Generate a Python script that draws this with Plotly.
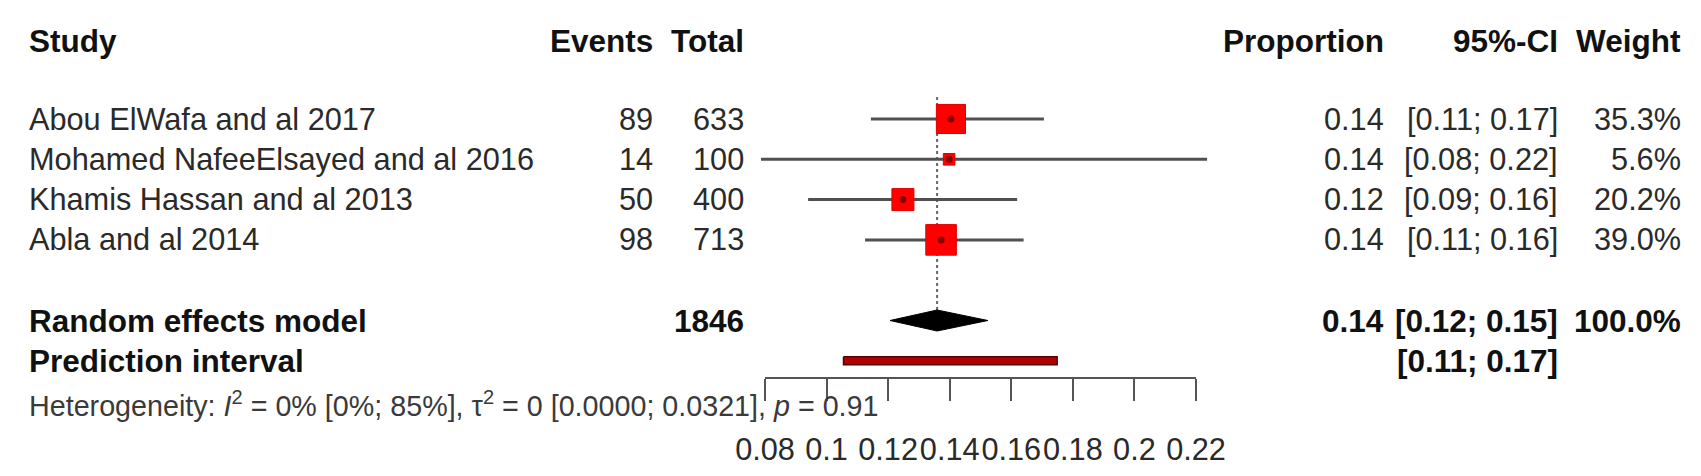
import plotly.graph_objects as go
import numpy as np

# ---------------- data ----------------
studies = ["Abou ElWafa and al 2017", "Mohamed NafeeElsayed and al 2016",
           "Khamis Hassan and al 2013", "Abla and al 2014"]
events = [89, 14, 50, 98]
totals = [633, 100, 400, 713]
proportion = [0.1404, 0.1398, 0.1248, 0.1372]
ci_lower = [0.1144, 0.0787, 0.0940, 0.1125]
ci_upper = [0.1706, 0.2236, 0.1619, 0.1640]
weights = [35.3, 5.6, 20.2, 39.0]

pooled_est = 0.1359
pooled_lower = 0.1206
pooled_upper = 0.1524
pooled_weight = 100.0
pred_lower = 0.1055
pred_upper = 0.1749

tick_vals = [0.08, 0.10, 0.12, 0.14, 0.16, 0.18, 0.20, 0.22]
tick_text = ["0.08", "0.1", "0.12", "0.14", "0.16", "0.18", "0.2", "0.22"]

het_text = ("Heterogeneity: <i>I</i><sup>2</sup> = 0% [0%; 85%], "
            "\u03c4<sup>2</sup> = 0 [0.0000; 0.0321], <i>p</i> = 0.91")

# ---------------- layout helpers ----------------
W, H = 1701, 476
FONT = "Liberation Sans, Arial, sans-serif"
FS = 30.7
FSB = 31.5
ax_left_px, ax_right_px = 765, 1196
axis_y_px = 378
ppu = (ax_right_px - ax_left_px) / (tick_vals[-1] - tick_vals[0])
x_range = [tick_vals[0] - ax_left_px / ppu, tick_vals[0] + (W - ax_left_px) / ppu]

row0, row_gap = 119, 40.3
def row_y(i):
    return row0 + row_gap * i

header_y = 41
het_y = 404

col_study = 27
col_events = 655
col_total = 746
col_prop = 1386
col_ci = 1560
col_weight = 1683

fig = go.Figure()

# dotted pooled line
fig.add_trace(go.Scatter(x=[pooled_est, pooled_est], y=[row_y(0) - 22, row_y(5) - 10],
                         mode="lines", line=dict(color="#666", width=2, dash="dot"),
                         hoverinfo="skip", showlegend=False))

# CI lines
for i in range(len(studies)):
    fig.add_trace(go.Scatter(x=[ci_lower[i], ci_upper[i]], y=[row_y(i), row_y(i)],
                             mode="lines", line=dict(color="#505050", width=3),
                             hoverinfo="skip", showlegend=False))

# squares
fig.add_trace(go.Scatter(x=proportion, y=[row_y(i) for i in range(len(studies))],
                         mode="markers",
                         marker=dict(symbol="square", color="#ff0000", opacity=1,
                                     size=[4.9 * np.sqrt(w) for w in weights],
                                     line=dict(color="#e00000", width=1)),
                         hoverinfo="skip", showlegend=False))
fig.add_trace(go.Scatter(x=proportion, y=[row_y(i) for i in range(len(studies))],
                         mode="markers",
                         marker=dict(symbol="circle", color="#8a0000", size=7, opacity=1),
                         hoverinfo="skip", showlegend=False))

# diamond
yre = row_y(5)
fig.add_trace(go.Scatter(x=[pooled_lower, pooled_est, pooled_upper, pooled_est, pooled_lower],
                         y=[yre, yre - 10.5, yre, yre + 10.5, yre],
                         mode="lines", fill="toself", fillcolor="black",
                         line=dict(color="black", width=1),
                         hoverinfo="skip", showlegend=False))

# prediction interval
ypi = row_y(6)
fig.add_trace(go.Scatter(x=[pred_lower, pred_upper, pred_upper, pred_lower, pred_lower],
                         y=[ypi - 4, ypi - 4, ypi + 4, ypi + 4, ypi - 4],
                         mode="lines", fill="toself", fillcolor="#b00000",
                         line=dict(color="#5a0000", width=1.5),
                         hoverinfo="skip", showlegend=False))

# invisible trace for the visible axis
fig.add_trace(go.Scatter(x=[tick_vals[0]], y=[axis_y_px], xaxis="x2", yaxis="y",
                         mode="markers", marker=dict(opacity=0),
                         hoverinfo="skip", showlegend=False))

ann = []
def txt(xpx, y, s, anchor, bold=False, size=None, color=None):
    if size is None:
        size = FSB if bold else FS
    if color is None:
        color = "#111" if bold else "#2a2a2a"
    ann.append(dict(x=xpx / W, xref="paper", y=y, yref="y", text=("<b>%s</b>" % s) if bold else s,
                    xanchor=anchor, yanchor="middle", showarrow=False,
                    font=dict(family=FONT, size=size, color=color)))

txt(col_study, header_y, "Study", "left", True)
txt(col_events, header_y, "Events", "right", True)
txt(col_total, header_y, "Total", "right", True)
txt(col_prop, header_y, "Proportion", "right", True)
txt(col_ci, header_y, "95%-CI", "right", True)
txt(col_weight, header_y, "Weight", "right", True)

for i in range(len(studies)):
    y = row_y(i)
    txt(col_study, y, studies[i], "left")
    txt(col_events, y, str(events[i]), "right")
    txt(col_total, y, str(totals[i]), "right")
    txt(col_prop, y, "%.2f" % proportion[i], "right")
    txt(col_ci, y, "[%.2f; %.2f]" % (ci_lower[i], ci_upper[i]), "right")
    txt(col_weight, y, "%.1f%%" % weights[i], "right")

txt(col_study, yre, "Random effects model", "left", True)
txt(col_total, yre, str(sum(totals)), "right", True)
txt(col_prop, yre, "%.2f" % pooled_est, "right", True)
txt(col_ci, yre, "[%.2f; %.2f]" % (pooled_lower, pooled_upper), "right", True)
txt(col_weight, yre, "%.1f%%" % pooled_weight, "right", True)

txt(col_study, ypi, "Prediction interval", "left", True)
txt(col_ci, ypi, "[%.2f; %.2f]" % (pred_lower, pred_upper), "right", True)

txt(col_study, het_y, het_text, "left", False, 28.7, "#3a3a3a")

fig.update_layout(
    width=W, height=H,
    margin=dict(l=0, r=0, t=0, b=0, autoexpand=False),
    paper_bgcolor="white", plot_bgcolor="rgba(0,0,0,0)",
    annotations=ann,
    xaxis=dict(range=x_range, domain=[0, 1], visible=False, fixedrange=True, automargin=False),
    yaxis=dict(range=[H, 0], domain=[0, 1], visible=False, fixedrange=True, automargin=False),
    xaxis2=dict(domain=[ax_left_px / W, ax_right_px / W],
                range=[tick_vals[0] - 1e-6, tick_vals[-1] + 1e-6],
                anchor="free", position=1 - axis_y_px / H, side="bottom",
                showline=True, linecolor="#555", linewidth=2,
                ticks="outside", ticklen=22, tickwidth=2, tickcolor="#555",
                tickvals=tick_vals, ticktext=tick_text, tickangle=0,
                tickfont=dict(family=FONT, size=FS, color="#2a2a2a"),
                ticklabelstandoff=22, automargin=False,
                showgrid=False, zeroline=False, fixedrange=True),
    showlegend=False,
)

fig.write_html("out.html", config={"displayModeBar": False},
               post_script="document.body.style.margin='0';")
